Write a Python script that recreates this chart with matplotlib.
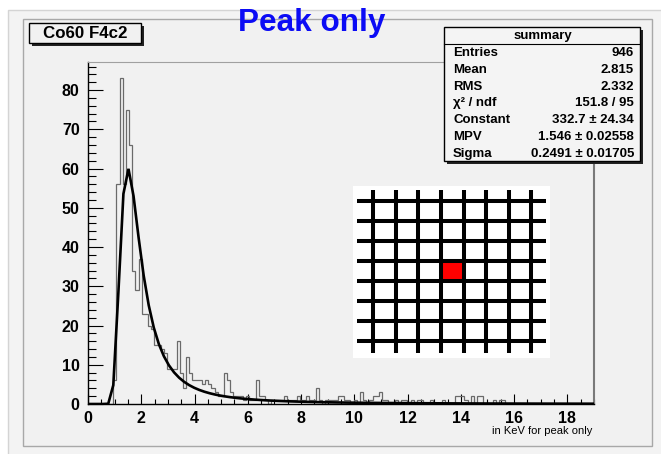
import numpy as np
import matplotlib
matplotlib.use("Agg")
import matplotlib.pyplot as plt
from matplotlib.patches import Rectangle

# ---------------- data ----------------
x_min, x_max, n_bins = 0.0, 19.0, 160
counts = [
    0, 0, 0, 0, 0, 0, 0, 0, 6, 56,
    83, 56, 75, 66, 34, 29, 37, 23, 23, 20,
    19, 15, 15, 14, 13, 9, 9, 9, 16, 8,
    4, 12, 8, 6, 6, 6, 5, 6, 5, 4,
    3, 2, 2, 8, 6, 3, 2, 2, 2, 1,
    2, 1, 1, 6, 2, 2, 1, 0, 1, 1,
    1, 1, 2, 1, 1, 1, 2, 1, 1, 2,
    1, 1, 4, 1, 0, 1, 1, 1, 1, 2,
    2, 1, 1, 0, 1, 0, 3, 1, 0, 1,
    2, 2, 3, 1, 1, 0, 0, 1, 0, 1,
    1, 0, 1, 0, 1, 1, 0, 0, 1, 0,
    0, 0, 1, 0, 0, 0, 2, 2, 2, 1,
    0, 2, 0, 2, 2, 0, 0, 0, 1, 0,
    1, 1, 0, 0, 0, 0, 0, 0, 0, 0,
    0, 0, 0, 0, 0, 0, 0, 0, 0, 0,
    0, 0, 0, 0, 0, 0, 0, 0, 0, 0,
]
fit_constant = 332.7
fit_mpv = 1.546
fit_sigma = 0.2491

x_ticks = [0, 2, 4, 6, 8, 10, 12, 14, 16, 18]
y_ticks = [0, 10, 20, 30, 40, 50, 60, 70, 80]

title_box = "Co60 F4c2"
slide_title = "Peak only"
x_title = "in KeV for peak only"
stats_header = "summary"
stats_labels = ["Entries", "Mean", "RMS", "χ² / ndf", "Constant", "MPV", "Sigma"]
stats_values = ["946", "2.815", "2.332", "151.8 / 95", "332.7 ± 24.34",
                "1.546 ± 0.02558", "0.2491 ± 0.01705"]

# ---------------- landau (ROOT TMath::Landau, unnormalised) ----------------
def landau_std(lams):
    t = np.concatenate([np.linspace(1e-9, 2.0, 200001),
                        np.linspace(2.0, 100.0, 98001)[1:]])
    tlogt = t * np.log(t)
    s = np.sin(np.pi * t)
    out = []
    for l in lams:
        if l < -3.8:
            out.append(0.0)
            continue
        f = np.exp(-tlogt - l * t) * s
        out.append(max(np.trapezoid(f, t) / np.pi, 0.0))
    return np.array(out)

edges = np.linspace(x_min, x_max, n_bins + 1)
xf = np.linspace(x_min, x_max, 101)
yf = fit_constant * landau_std((xf - fit_mpv) / fit_sigma)

# ---------------- figure ----------------
W, H = 661, 454
fig = plt.figure(figsize=(W / 100, H / 100), dpi=100)
fig.patch.set_facecolor("white")
FONT = "Liberation Sans"

def fr(x0, y0, x1, y1):
    return [x0 / W, 1 - y1 / H, (x1 - x0) / W, (y1 - y0) / H]

def frect(x0, y0, x1, y1, z=5, **kw):
    b = fr(x0, y0, x1, y1)
    r = Rectangle((b[0], b[1]), b[2], b[3], transform=fig.transFigure,
                  zorder=z, **kw)
    fig.add_artist(r)
    return r

# canvas frames (behind axes)
frect(8, 10, 668, 470, z=-10, facecolor="#f3f3f3", edgecolor="#d4d4d4", lw=1)
frect(23, 19, 652, 446, z=-9, facecolor="#f1f1f1", edgecolor="#a8a8a8", lw=1)

# main axes
ax = fig.add_axes(fr(88, 62, 594, 404))
ax.set_zorder(1)
ax.set_facecolor("#f1f1f1")
ax.stairs(counts, edges, color="#6a6a6a", lw=0.9, zorder=2)
ax.plot(xf, yf, color="black", lw=1.9, zorder=3, solid_joinstyle="miter")
ax.set_xlim(x_min, x_max)
ax.set_ylim(0, max(counts) * 1.05)
ax.set_xticks(x_ticks)
ax.set_yticks(y_ticks)
ax.set_xticks(np.arange(0, 19.01, 0.5), minor=True)
ax.set_yticks(np.arange(0, 87, 2), minor=True)
ax.tick_params(axis="x", which="major", direction="in", length=7.2, width=0.8,
               pad=5, labelsize=11.5)
ax.tick_params(axis="x", which="minor", direction="in", length=3.6, width=0.8)
ax.tick_params(axis="y", which="major", direction="in", length=10.8, width=0.8,
               pad=6, labelsize=11.5)
ax.tick_params(axis="y", which="minor", direction="in", length=5.4, width=0.8)
for lab in ax.get_xticklabels() + ax.get_yticklabels():
    lab.set_fontfamily(FONT)
    lab.set_fontweight("bold")
for side in ["left", "bottom"]:
    ax.spines[side].set_color("black")
    ax.spines[side].set_linewidth(1.0)
ax.spines["top"].set_color("#a0a0a0")
ax.spines["top"].set_linewidth(0.8)
ax.spines["right"].set_color("#7a7a7a")
ax.spines["right"].set_linewidth(1.5)

fig.text(592 / W, 1 - 431 / H, x_title, ha="right", va="center",
         fontsize=8, family=FONT)

# title box
frect(32, 26, 144, 46, facecolor="#222222", edgecolor="none")
frect(29, 23, 141, 43, facecolor="#f1f1f1", edgecolor="black", lw=1)
fig.text(85 / W, 1 - 33.5 / H, title_box, ha="center", va="center",
         fontsize=12.2, fontweight="bold", family=FONT, zorder=6)

# slide title
fig.text(312 / W, 1 - 31.5 / H, slide_title, ha="center", va="baseline",
         fontsize=22.7, fontweight="bold", family=FONT, color="#0b0bf5", zorder=6)

# stats box
frect(447, 30, 643, 164, facecolor="#222222", edgecolor="none")
frect(444, 27, 640, 161, facecolor="#f4f4f4", edgecolor="black", lw=1)
fig.add_artist(plt.Line2D([444 / W, 640 / W], [1 - 43.5 / H, 1 - 43.5 / H],
                          transform=fig.transFigure, color="black", lw=0.8,
                          zorder=6))
fig.text(543 / W, 1 - 35.5 / H, stats_header, ha="center", va="center",
         fontsize=9.5, fontweight="bold", family=FONT, zorder=6)
for k, (lab, val) in enumerate(zip(stats_labels, stats_values)):
    yy = 1 - (52.7 + 16.93 * k) / H
    fig.text(453 / W, yy, lab, ha="left", va="center", fontsize=9.5,
             fontweight="bold", family=FONT, zorder=6)
    fig.text(634 / W, yy, val, ha="right", va="center", fontsize=9.5,
             fontweight="bold", family=FONT, zorder=6)

# inset pixel-map picture
n_lines = 8
red_cell = (3, 3)
ax2 = fig.add_axes(fr(353, 186, 550, 358))
ax2.set_zorder(2)
ax2.set_facecolor("white")
ax2.set_xlim(-0.898, 7.819)
ax2.set_ylim(7.865, -0.735)
ax2.set_xticks([]); ax2.set_yticks([])
for sp in ax2.spines.values():
    sp.set_visible(False)
ax2.add_patch(Rectangle(red_cell, 1, 1, facecolor="#ff0000", edgecolor="none", zorder=1))
ax2.vlines(range(n_lines), -0.535, 7.615, color="black", lw=2.9, zorder=2)
ax2.hlines(range(n_lines), -0.72, 7.64, color="black", lw=2.9, zorder=2)

fig.savefig("out.png", dpi=100)
